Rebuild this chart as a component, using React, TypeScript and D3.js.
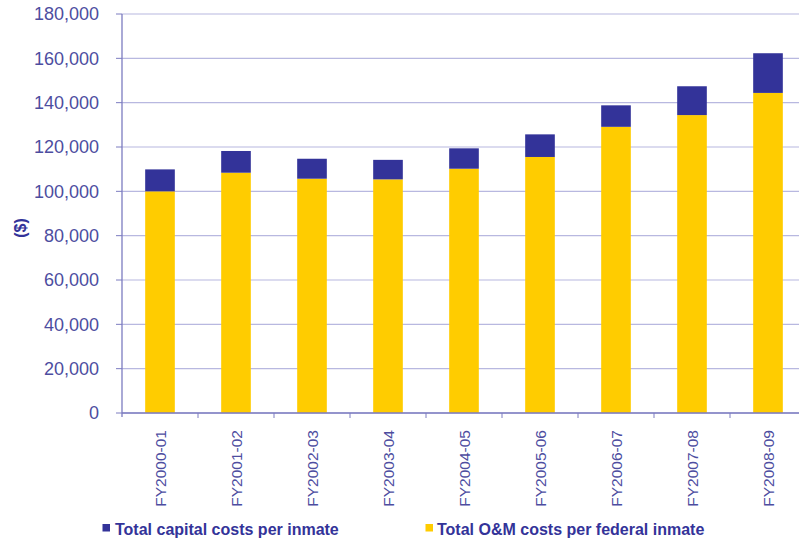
import React from "react";
import * as d3 from "d3";

const categories = [
  "FY2000-01",
  "FY2001-02",
  "FY2002-03",
  "FY2003-04",
  "FY2004-05",
  "FY2005-06",
  "FY2006-07",
  "FY2007-08",
  "FY2008-09",
];
const omCosts = [100000, 108400, 105700, 105400, 110200, 115500, 129100, 134400, 144400];
const capitalCosts = [9900, 9800, 9000, 8800, 9200, 10200, 9700, 13000, 17900];
const yTicks = [0, 20000, 40000, 60000, 80000, 100000, 120000, 140000, 160000, 180000];
const seriesNames = ["Total capital costs per inmate", "Total O&M costs per federal inmate"];

const W = 799;
const H = 539;
const left = 122;
const right = 806;
const top = 14;
const bottom = 413;

const NAVY = "#333399";
const YELLOW = "#ffcc00";
const LABEL = "#4d4d9f";
const AXIS = "#7c7cc0";
const GRID = "#b8b8e0";

export default function App() {
  const rows = categories.map((c, i) => ({ cat: c, om: omCosts[i], cap: capitalCosts[i] }));
  const stack = d3.stack<any>().keys(["om", "cap"]);
  const layers = stack(rows);
  const x = d3.scaleBand().domain(categories).range([left, right]).padding(0);
  const y = d3.scaleLinear().domain([0, 180000]).range([bottom, top]);
  const barW = x.bandwidth() * 0.39;
  const fmt = d3.format(",");
  const colors: Record<string, string> = { om: YELLOW, cap: NAVY };

  return (
    <svg
      width={W}
      height={H}
      style={{ position: "absolute", left: 0, top: 0, display: "block", background: "#fff" }}
      fontFamily="Arial, 'Liberation Sans', sans-serif"
    >
      {/* gridlines */}
      {yTicks.map((t) => (
        <line key={"g" + t} x1={left} x2={W} y1={y(t)} y2={y(t)} stroke={GRID} strokeWidth={1.2} />
      ))}
      {/* y tick marks and labels */}
      {yTicks.map((t) => (
        <g key={"t" + t}>
          <line x1={left - 6} x2={left} y1={y(t)} y2={y(t)} stroke={AXIS} strokeWidth={1} />
          <text x={99} y={y(t)} dy="0.35em" textAnchor="end" fontSize={18} fill={LABEL}>
            {fmt(t)}
          </text>
        </g>
      ))}
      {/* bars */}
      {layers.map((layer) => (
        <g key={layer.key} fill={colors[layer.key]}>
          {layer.map((d: any, i: number) => (
            <rect
              key={i}
              x={(x(d.data.cat) as number) + x.bandwidth() / 2 - barW / 2}
              y={y(d[1])}
              width={barW}
              height={y(d[0]) - y(d[1])}
            />
          ))}
        </g>
      ))}
      {/* axes */}
      <line x1={left} x2={left} y1={top} y2={bottom + 4} stroke={AXIS} strokeWidth={1.3} />
      <line x1={left} x2={W} y1={bottom} y2={bottom} stroke={AXIS} strokeWidth={1.3} />
      {categories.map((c) => (
        <line
          key={"xt" + c}
          x1={(x(c) as number) + x.bandwidth()}
          x2={(x(c) as number) + x.bandwidth()}
          y1={bottom}
          y2={bottom + 5}
          stroke={AXIS}
          strokeWidth={1}
        />
      ))}
      {/* x labels */}
      {categories.map((c) => {
        const cx = (x(c) as number) + x.bandwidth() / 2;
        return (
          <text
            key={"xl" + c}
            transform={`translate(${cx + 5.5},430) rotate(-90)`}
            textAnchor="end"
            fontSize={15.5}
            fill={LABEL}
          >
            {c}
          </text>
        );
      })}
      {/* y axis title */}
      <text
        transform={`translate(26,228) rotate(-90)`}
        textAnchor="middle"
        fontSize={16}
        fontWeight="bold"
        fill={NAVY}
      >
        ($)
      </text>
      {/* legend */}
      <rect x={102.5} y={524} width={7.5} height={7.5} fill={NAVY} />
      <text x={115} y={535} fontSize={16} fontWeight="bold" fill={NAVY}>
        {seriesNames[0]}
      </text>
      <rect x={425.5} y={524} width={7.5} height={7.5} fill={YELLOW} />
      <text x={437} y={535} fontSize={16} fontWeight="bold" fill={NAVY}>
        {seriesNames[1]}
      </text>
    </svg>
  );
}
